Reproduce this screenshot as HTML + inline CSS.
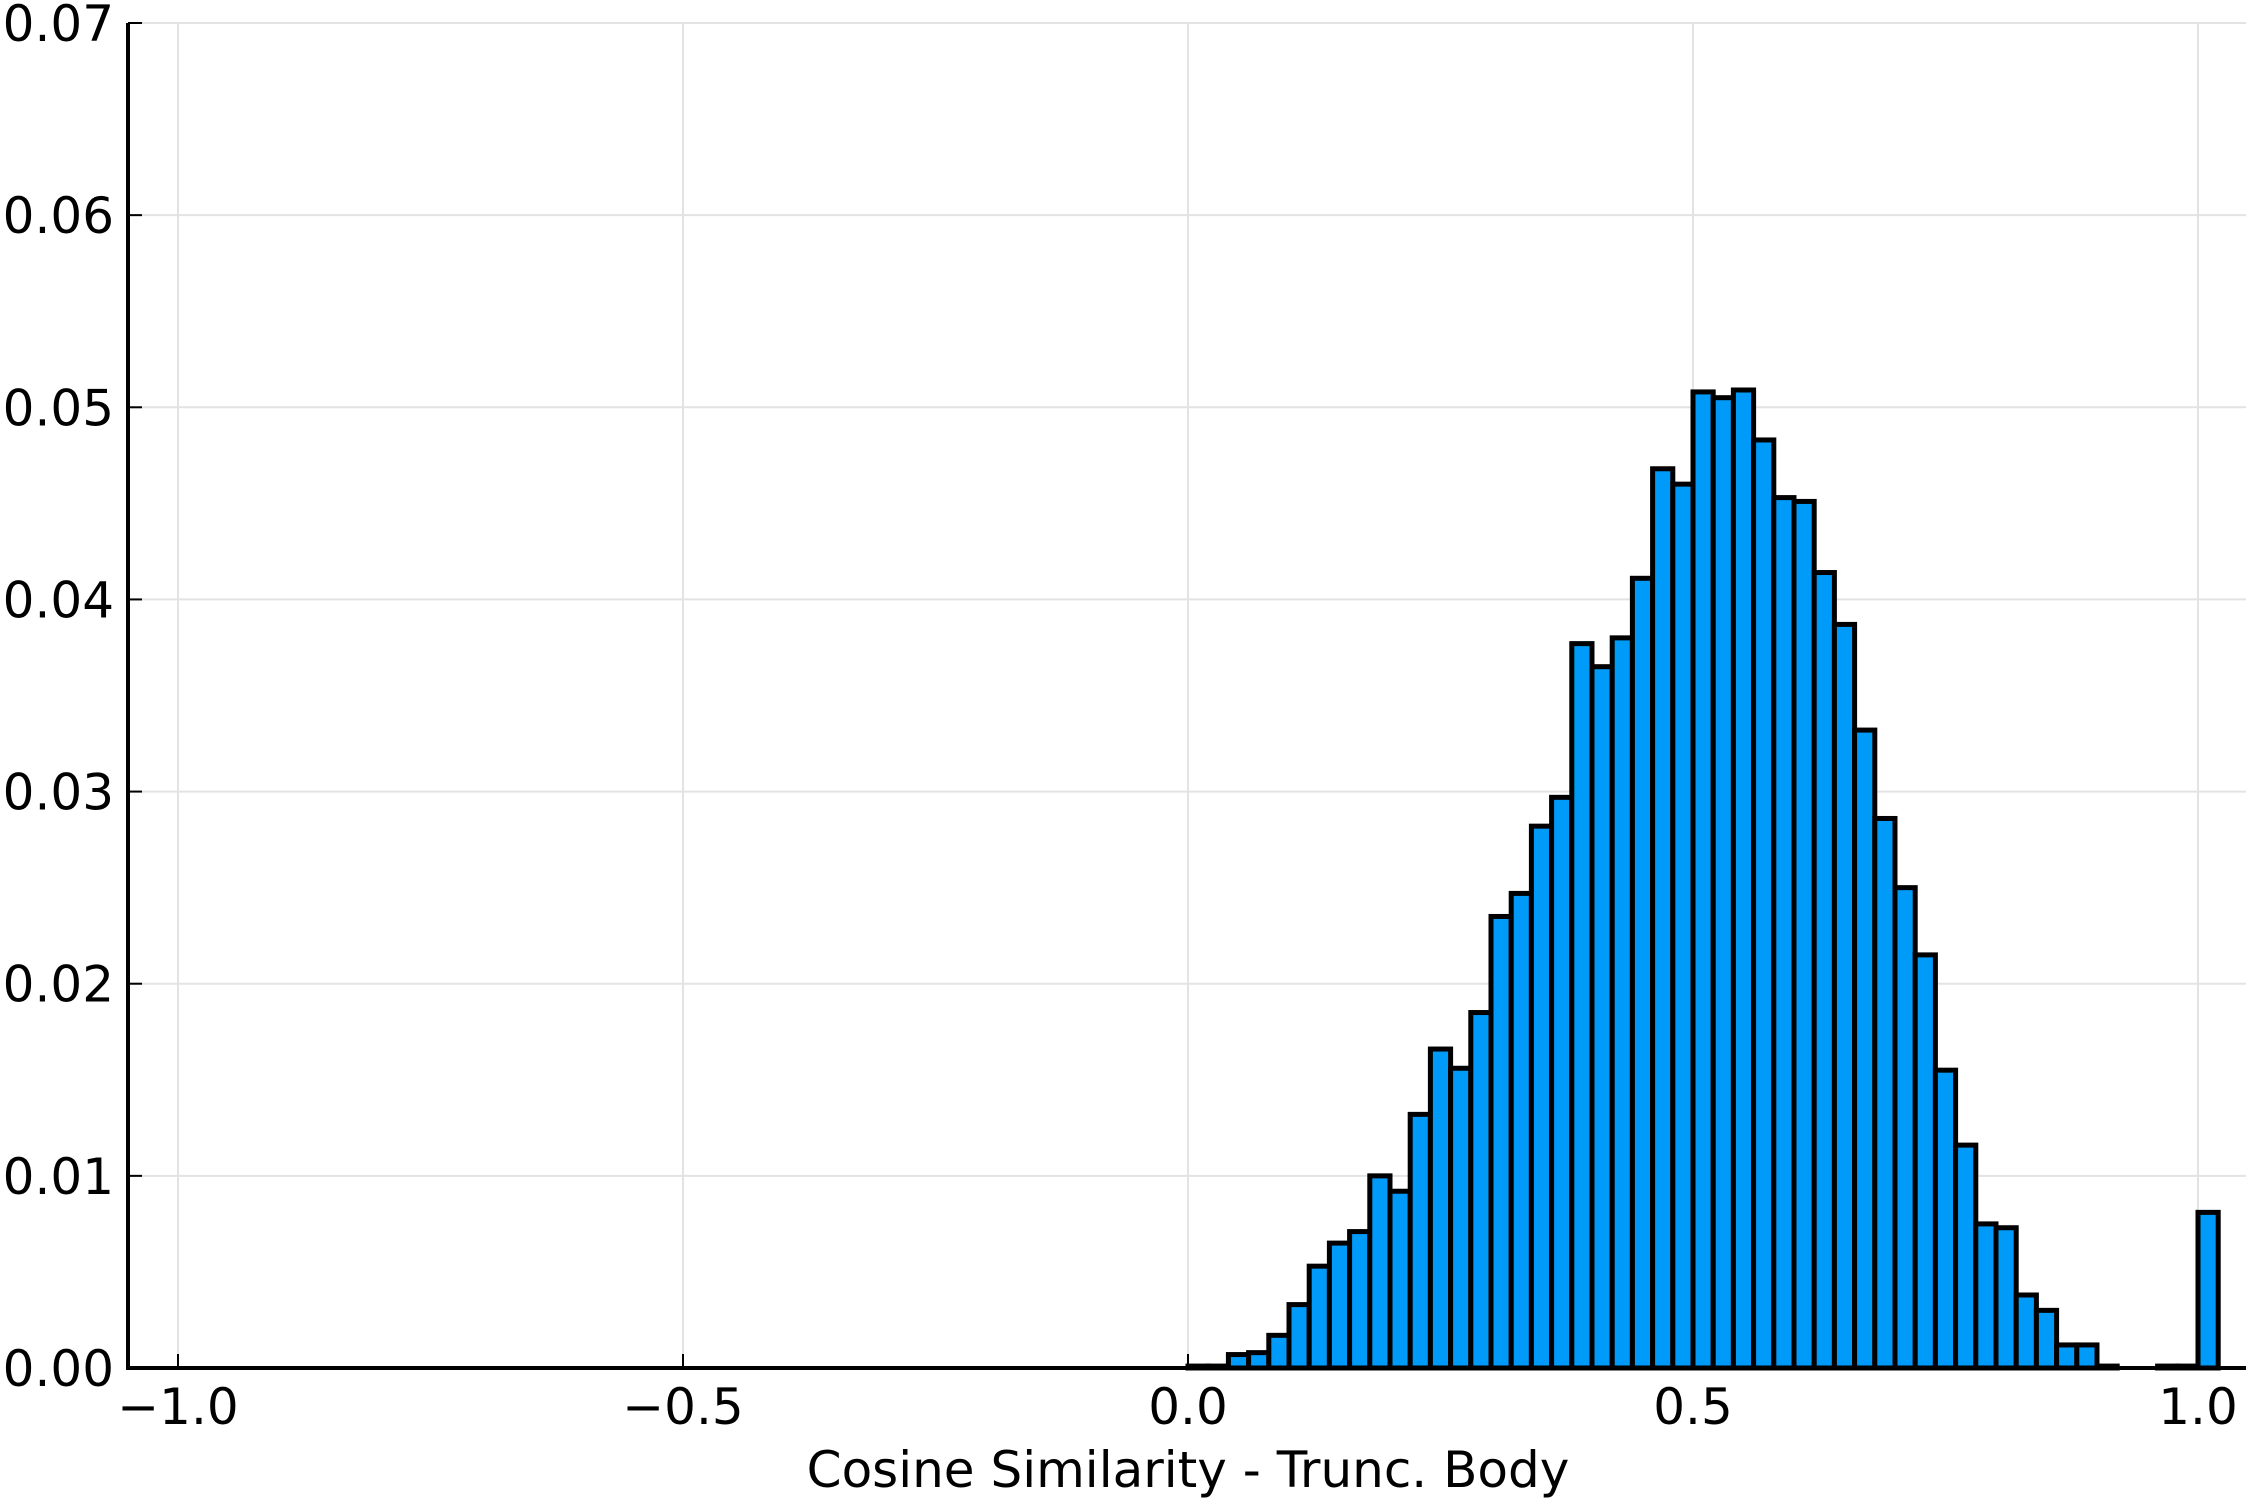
<!DOCTYPE html>
<html><head><meta charset="utf-8"><style>
html,body{margin:0;padding:0;background:#fff;}
svg{display:block;}
text{font-family:"DejaVu Sans","Liberation Sans",sans-serif;fill:#000;}
</style></head><body>
<svg id="chart" width="2250" height="1500" xmlns="http://www.w3.org/2000/svg"></svg>
<script>
const binStart = 0.0;
const binWidth = 0.02;
const densities = [0.0001,0.0001,0.0007,0.0008,0.0017,0.0033,0.0053,0.0065,0.0071,0.0100,
0.0092,0.0132,0.0166,0.0156,0.0185,0.0235,0.0247,0.0282,0.0297,0.0377,
0.0365,0.0380,0.0411,0.0468,0.0460,0.0508,0.0505,0.0509,0.0483,0.0453,
0.0451,0.0414,0.0387,0.0332,0.0286,0.0250,0.0215,0.0155,0.0116,0.0075,
0.0073,0.0038,0.0030,0.0012,0.0012,0.0001,0,0,0.0001,0.0001,0.0081];
const xTicks = [-1.0,-0.5,0.0,0.5,1.0];
const xTickLabels = ["\u22121.0","\u22120.5","0.0","0.5","1.0"];
const yTicks = [0,0.01,0.02,0.03,0.04,0.05,0.06,0.07];
const yTickLabels = ["0.00","0.01","0.02","0.03","0.04","0.05","0.06","0.07"];

const NS="http://www.w3.org/2000/svg";
const svg=document.getElementById('chart');
const L=128,R=2246,T=23,B=1368;
const xs=v=>178+(v+1)*1010;
const ys=v=>B-(v/0.07)*(B-T);
function mk(tag,attrs,parent){const e=document.createElementNS(NS,tag);for(const k in attrs)e.setAttribute(k,attrs[k]);(parent||svg).appendChild(e);return e;}

const grid=mk('g',{});


xTicks.forEach(v=>{const l=mk('line',{x1:xs(v),x2:xs(v),y1:T,y2:B,stroke:'#e3e3e3','stroke-width':2},grid);

});
yTicks.forEach(v=>{const l=mk('line',{x1:L,x2:R,y1:ys(v),y2:ys(v),stroke:'#e3e3e3','stroke-width':2},grid);

});

const bars=mk('g',{});


densities.forEach((d,i)=>{
  const x0=xs(binStart+i*binWidth), x1=xs(binStart+(i+1)*binWidth);
  const r=mk('rect',{x:x0,y:ys(d),width:x1-x0,height:B-ys(d),fill:'#009af9',stroke:'#000','stroke-width':5},bars);
  
  
});

const ax=mk('g',{});


mk('line',{x1:L,x2:L,y1:T,y2:B+2,stroke:'#000','stroke-width':4},ax);
mk('line',{x1:L-2,x2:R,y1:B,y2:B,stroke:'#000','stroke-width':4},ax);
xTicks.forEach((v,i)=>{
  mk('line',{x1:xs(v),x2:xs(v),y1:B,y2:B-14,stroke:'#000','stroke-width':2},ax);
  const t=mk('text',{x:xs(v),y:1424,'text-anchor':'middle','font-size':50},ax);
  t.textContent=xTickLabels[i];
  
  
});
yTicks.forEach((v,i)=>{
  mk('line',{x1:L,x2:L+14,y1:ys(v),y2:ys(v),stroke:'#000','stroke-width':2},ax);
  const t=mk('text',{x:114,y:ys(v)+18,'text-anchor':'end','font-size':50},ax);
  t.textContent=yTickLabels[i];
  
  
});
const xt=mk('text',{x:1188,y:1487,'text-anchor':'middle','font-size':50});
xt.textContent='Cosine Similarity - Trunc. Body';


</script>
</body></html>
